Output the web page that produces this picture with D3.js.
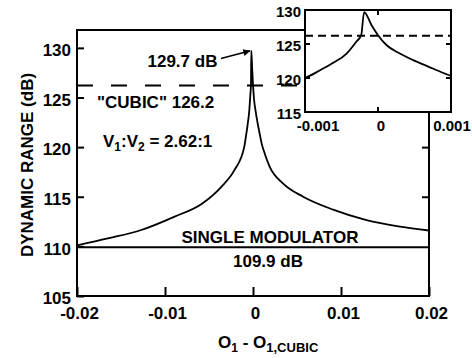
<!DOCTYPE html>
<meta charset='utf-8'>
<head>
    <title>Dynamic range vs offset</title>
    <script src='https://cdn.jsdelivr.net/npm/d3@7/dist/d3.min.js'></script>
</head>

<style>
    body { margin: 0; background: #fff; }
    text { font-family: 'Liberation Sans', Arial, Helvetica, sans-serif; font-weight: bold; fill: #000; }
    .frame { fill: none; stroke: #000; stroke-width: 2px; }
    .tick line { stroke: #000; stroke-width: 2px; }
    .curve { fill: none; stroke: #000; stroke-width: 1.8px; stroke-linejoin: round; }
</style>

<svg width='472' height='358'></svg>

<script>
    // curve: O1 - O1,cubic vs dynamic range (dB)
    var offsets = [-0.02, -0.0165, -0.0127, -0.0089, -0.0058, -0.0036, -0.0021, -0.001, -0.0008, -0.00062,
        -0.00043, -0.0003, -0.00023, -0.00019, -0.00009, 0, 0.000115, 0.0003, 0.00053, 0.00075,
        0.001, 0.0012, 0.0019, 0.0034, 0.0057, 0.0091, 0.0129, 0.0167, 0.02];
    var rangeDb = [110.1, 110.8, 111.65, 113.0, 114.3, 116.0, 117.7, 120.0, 121.1, 122.2,
        123.6, 125.3, 126.3, 129.7, 127.8, 126.3, 124.85, 123.6, 122.4, 121.4,
        120.3, 119.7, 118.0, 116.35, 115.0, 113.7, 112.65, 112.0, 111.6];

    var xTicks = [-0.02, -0.01, 0, 0.01, 0.02];
    var yTicks = [105, 110, 115, 120, 125, 130];
    var insetXTicks = [-0.001, 0, 0.001];
    var insetYTicks = [115, 120, 125, 130];

    var cubicDb = 126.2;
    var singleDb = 109.9;
    var peakDb = 129.7;
    var peakOffset = -0.00019;

    var pts = offsets.map(function (d, i) { return {x: d, y: rangeDb[i]}; });

    var svg = d3.select('svg');

    // main plot scales
    var x = d3.scaleLinear().domain([-0.02, 0.02]).range([77, 429]);
    var y = d3.scaleLinear().domain([105, 131.8]).range([296, 30]);

    // reference lines
    svg.append('line')
        .attr('x1', x(-0.02)).attr('x2', x(0.02))
        .attr('y1', y(cubicDb)).attr('y2', y(cubicDb))
        .attr('stroke', '#000').attr('stroke-width', 2).attr('stroke-dasharray', '16,18');
    svg.append('line')
        .attr('x1', x(-0.02)).attr('x2', x(0.02))
        .attr('y1', y(singleDb)).attr('y2', y(singleDb))
        .attr('stroke', '#000').attr('stroke-width', 2);

    var line = d3.line()
        .x(function (d) { return x(d.x); })
        .y(function (d) { return y(d.y); })
        .curve(d3.curveMonotoneX);
    svg.append('path').datum(pts).attr('class', 'curve').attr('d', line);

    // axes (inward ticks)
    var gy = svg.append('g').attr('transform', 'translate(' + x(-0.02) + ',0)')
        .call(d3.axisLeft(y).tickValues(yTicks).tickSize(-7).tickSizeOuter(0).tickPadding(6)
            .tickFormat(function (d) { return String(d); }));
    gy.select('.domain').remove();
    gy.attr('font-size', 17).attr('font-family', null);
    gy.selectAll('text').attr('dy', '0.45em');

    var gx = svg.append('g').attr('transform', 'translate(0,' + y(105) + ')')
        .call(d3.axisBottom(x).tickValues(xTicks).tickSize(-9).tickSizeOuter(0).tickPadding(11)
            .tickFormat(function (d) { return String(d); }));
    gx.select('.domain').remove();
    gx.attr('font-size', 17).attr('font-family', null);
    gx.selectAll('text').attr('dx', 2);

    var gr = svg.append('g').attr('transform', 'translate(' + x(0.02) + ',0)')
        .call(d3.axisRight(y).tickValues([115, 120]).tickSize(-7).tickSizeOuter(0).tickFormat(''));
    gr.select('.domain').remove();

    svg.append('rect').attr('class', 'frame')
        .attr('x', x(-0.02)).attr('y', y(131.8))
        .attr('width', x(0.02) - x(-0.02)).attr('height', y(105) - y(131.8));

    // annotations
    svg.append('defs').append('marker')
        .attr('id', 'arrow').attr('viewBox', '0 0 10 10')
        .attr('refX', 10).attr('refY', 5)
        .attr('markerWidth', 11).attr('markerHeight', 7)
        .attr('markerUnits', 'userSpaceOnUse').attr('orient', 'auto')
        .append('path').attr('d', 'M0,0L10,5L0,10Z').attr('fill', '#000');
    svg.append('line')
        .attr('x1', 221).attr('y1', 58.5)
        .attr('x2', x(peakOffset) - 1).attr('y2', y(peakDb))
        .attr('stroke', '#000').attr('stroke-width', 1.6)
        .attr('marker-end', 'url(#arrow)');

    svg.append('text').attr('x', 147.5).attr('y', 66.5).attr('font-size', 17).text(peakDb + ' dB');
    svg.append('text').attr('x', 97).attr('y', 108.3).attr('font-size', 17).text('"CUBIC" ' + cubicDb);

    var ratio = svg.append('text').attr('x', 103).attr('y', 146.5).attr('font-size', 17);
    ratio.append('tspan').text('V');
    ratio.append('tspan').attr('font-size', 12).attr('dy', 4).text('1');
    ratio.append('tspan').attr('dy', -4).text(':V');
    ratio.append('tspan').attr('font-size', 12).attr('dy', 4).text('2');
    ratio.append('tspan').attr('dy', -4).text(' = 2.62:1');

    svg.append('text').attr('x', 181.5).attr('y', 243.3).attr('font-size', 17).text('SINGLE MODULATOR');
    svg.append('text').attr('x', 233).attr('y', 267).attr('font-size', 17).text(singleDb + ' dB');

    // axis titles
    svg.append('text')
        .attr('transform', 'translate(33,165) rotate(-90)')
        .attr('text-anchor', 'middle').attr('font-size', 17)
        .text('DYNAMIC RANGE (dB)');

    var xt = svg.append('text').attr('x', 218).attr('y', 348).attr('font-size', 17);
    xt.append('tspan').text('O');
    xt.append('tspan').attr('font-size', 12).attr('dy', 4).text('1');
    xt.append('tspan').attr('dy', -4).text(' - O');
    xt.append('tspan').attr('font-size', 13).attr('dy', 4).text('1,CUBIC');

    // inset
    var xi = d3.scaleLinear().domain([-0.001, 0.001]).range([305, 451]);
    var yi = d3.scaleLinear().domain([115, 130]).range([112, 10]);
    var inset = svg.append('g');

    inset.append('rect')
        .attr('x', xi(-0.001)).attr('y', yi(130))
        .attr('width', xi(0.001) - xi(-0.001)).attr('height', yi(115) - yi(130))
        .attr('fill', '#fff');

    inset.append('clipPath').attr('id', 'insetClip').append('rect')
        .attr('x', xi(-0.001)).attr('y', yi(130))
        .attr('width', xi(0.001) - xi(-0.001)).attr('height', yi(115) - yi(130));

    inset.append('line')
        .attr('x1', xi(-0.001)).attr('x2', xi(0.001))
        .attr('y1', yi(cubicDb)).attr('y2', yi(cubicDb))
        .attr('stroke', '#000').attr('stroke-width', 2).attr('stroke-dasharray', '8,5');

    var lineInset = d3.line()
        .x(function (d) { return xi(d.x); })
        .y(function (d) { return yi(d.y); })
        .curve(d3.curveMonotoneX);
    inset.append('path')
        .datum(pts.filter(function (d) { return d.x >= -0.0022 && d.x <= 0.0013; }))
        .attr('class', 'curve').attr('clip-path', 'url(#insetClip)')
        .attr('d', lineInset);

    // inset ticks
    var tickLen = 5;
    [[xi(-0.001), 1], [xi(0.001), -1]].forEach(function (side) {
        inset.selectAll(null).data([120, 125]).enter().append('line')
            .attr('x1', side[0]).attr('x2', side[0] + side[1] * tickLen)
            .attr('y1', function (d) { return yi(d); }).attr('y2', function (d) { return yi(d); })
            .attr('stroke', '#000').attr('stroke-width', 2);
    });
    [[yi(130), 1], [yi(115), -1]].forEach(function (side) {
        inset.append('line')
            .attr('x1', xi(0)).attr('x2', xi(0))
            .attr('y1', side[0]).attr('y2', side[0] + side[1] * tickLen)
            .attr('stroke', '#000').attr('stroke-width', 2);
    });

    inset.append('rect').attr('class', 'frame')
        .attr('x', xi(-0.001)).attr('y', yi(130))
        .attr('width', xi(0.001) - xi(-0.001)).attr('height', yi(115) - yi(130));

    inset.selectAll('.iy').data(insetYTicks).enter().append('text')
        .attr('class', 'iy')
        .attr('x', xi(-0.001) - 4).attr('y', function (d) { return yi(d); })
        .attr('dy', '0.45em').attr('text-anchor', 'end').attr('font-size', 15)
        .text(function (d) { return d; });

    var insetNudge = {'-0.001': 13, '0': 3, '0.001': 1};
    inset.selectAll('.ix').data(insetXTicks).enter().append('text')
        .attr('class', 'ix')
        .attr('x', function (d) { return xi(d) + insetNudge[String(d)]; })
        .attr('y', 130.5).attr('text-anchor', 'middle').attr('font-size', 15)
        .text(function (d) { return String(d); });
</script>
